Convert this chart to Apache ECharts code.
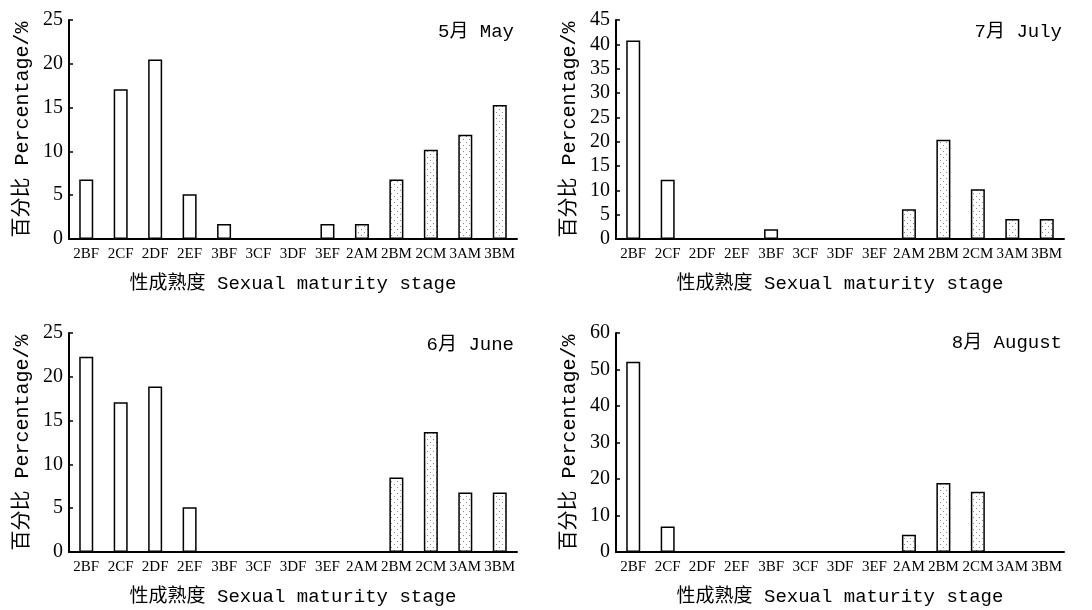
<!DOCTYPE html>
<html>
<head>
<meta charset="utf-8">
<script src="https://cdn.jsdelivr.net/npm/echarts@6/dist/echarts.min.js"></script>
<style>
html,body{margin:0;padding:0;background:#fff;}
#chart{width:1092px;height:610px;}
</style>
</head>
<body>
<div id="chart"></div>
<script>
// ---- data ----
var categories = ['2BF','2CF','2DF','2EF','3BF','3CF','3DF','3EF','2AM','2BM','2CM','3AM','3BM'];
var mayValues  = [6.8, 17.1, 20.5, 5.1, 1.7, 0, 0, 1.7, 1.7, 6.8, 10.2, 11.9, 15.3];
var julyValues = [40.8, 12.2, 0, 0, 2.0, 0, 0, 0, 6.1, 20.4, 10.2, 4.1, 4.1];
var juneValues = [22.3, 17.1, 18.9, 5.1, 0, 0, 0, 0, 0, 8.5, 13.7, 6.8, 6.8];
var augValues  = [52.1, 7.0, 0, 0, 0, 0, 0, 0, 4.7, 18.9, 16.5, 0, 0];
var panelTitles = ['5月 May', '7月 July', '6月 June', '8月 August'];
var yMax = [25, 45, 25, 60];
var yInterval = [5, 5, 5, 10];
var yAxisName = '百分比 Percentage/%';
var xAxisName = '性成熟度 Sexual maturity stage';

// ---- styles ----
var pat = document.createElement('canvas');
pat.width = 6; pat.height = 6;
var pc = pat.getContext('2d');
pc.fillStyle = '#fff'; pc.fillRect(0,0,6,6);
pc.fillStyle = '#8a8a8a';
pc.fillRect(1,1,1,1);
pc.fillRect(4,4,1,1);

var monoFont = '"Liberation Mono", "Noto Sans CJK SC", monospace';
var serifFont = '"Liberation Serif", "DejaVu Serif", serif';

var grids = [
  {left: 69, top: 20, width: 448, height: 219},
  {left: 616, top: 20, width: 448, height: 219},
  {left: 69, top: 333, width: 448, height: 219},
  {left: 616, top: 333, width: 448, height: 219}
];
var allValues = [mayValues, julyValues, juneValues, augValues];
var titlePos = [
  {right: 573, top: 17},
  {right: 25, top: 17},
  {right: 573, top: 330},
  {right: 25, top: 328}
];

var option = {
  backgroundColor: '#fff',
  animation: false,
  title: [], grid: grids, xAxis: [], yAxis: [], series: []
};

for (var i = 0; i < 4; i++) {
  option.title.push({
    text: panelTitles[i], right: titlePos[i].right, top: titlePos[i].top,
    textStyle: {fontFamily: monoFont, fontSize: 19, fontWeight: 'normal', color: '#000'}
  });
  option.xAxis.push({
    type: 'category', gridIndex: i, data: categories,
    name: xAxisName, nameLocation: 'middle', nameGap: 35,
    nameTextStyle: {fontFamily: monoFont, fontSize: 19, color: '#000'},
    axisLine: {lineStyle: {color: '#000', width: 2}},
    axisTick: {inside: true, length: 3, lineStyle: {color: '#000', width: 1.5}},
    axisLabel: {fontFamily: serifFont, fontSize: 15, color: '#000', margin: 8, interval: 0}
  });
  option.yAxis.push({
    type: 'value', gridIndex: i, min: 0, max: yMax[i], interval: yInterval[i],
    name: yAxisName, nameLocation: 'middle', nameGap: 36,
    nameTextStyle: {fontFamily: monoFont, fontSize: 20, color: '#000'},
    splitLine: {show: false},
    axisLine: {show: true, lineStyle: {color: '#000', width: 2}},
    axisTick: {show: true, inside: true, length: 4, lineStyle: {color: '#000', width: 1.5}},
    axisLabel: {fontFamily: serifFont, fontSize: 20, color: '#000', margin: 6}
  });
  var vals = allValues[i];
  option.series.push({
    type: 'bar', xAxisIndex: i, yAxisIndex: i, barWidth: 14,
    data: vals.map(function (v, k) {
      var male = categories[k].charAt(categories[k].length - 1) === 'M';
      return {
        value: v,
        itemStyle: {
          color: male ? {image: pat, repeat: 'repeat'} : '#fff',
          borderColor: '#000', borderWidth: v > 0 ? 1.5 : 0
        }
      };
    })
  });
}

var chart = echarts.init(document.getElementById('chart'), null, {renderer: 'canvas'});
chart.setOption(option);
</script>
</body>
</html>
